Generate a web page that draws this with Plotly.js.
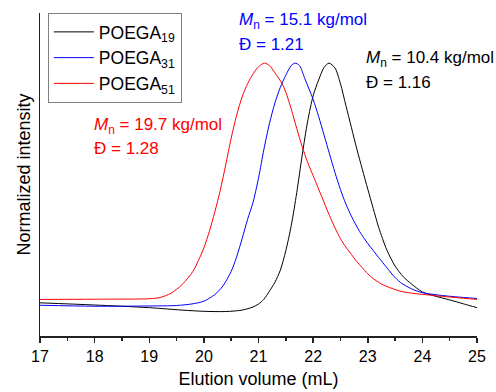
<!DOCTYPE html>
<html>
<head>
<meta charset="utf-8">
<script src="https://cdn.plot.ly/plotly-3.0.1.min.js"></script>
<style>html,body{margin:0;padding:0;background:#fff;}</style>
</head>
<body>
<div id="chart" style="width:496px;height:392px;"></div>
<script>
// Elution volume (mL) and normalized intensity for each polymer
const seriesNames = ["POEGA<sub>19</sub>", "POEGA<sub>31</sub>", "POEGA<sub>51</sub>"];

const volBlack = [17.0, 18.0, 19.0, 19.6, 20.0, 20.4, 20.7, 20.9, 21.0, 21.1, 21.2, 21.3, 21.4, 21.5, 21.6, 21.7, 21.8, 21.9, 22.0, 22.1, 22.2, 22.29, 22.4, 22.5, 22.6, 22.7, 22.8, 22.9, 23.0, 23.1, 23.2, 23.35, 23.5, 23.65, 23.8, 24.0, 24.2, 24.5, 24.75, 25.0];
const intBlack = [0.010, 0.001, -0.010, -0.020, -0.025, -0.026, -0.020, -0.007, 0.005, 0.025, 0.058, 0.095, 0.145, 0.225, 0.330, 0.465, 0.620, 0.760, 0.865, 0.930, 0.982, 1.0, 0.980, 0.915, 0.825, 0.735, 0.645, 0.562, 0.480, 0.400, 0.322, 0.228, 0.162, 0.118, 0.088, 0.055, 0.040, 0.022, 0.006, -0.010];

const volBlue = [17.0, 18.0, 19.0, 19.5, 19.8, 20.0, 20.2, 20.35, 20.5, 20.6, 20.7, 20.8, 20.9, 21.0, 21.1, 21.2, 21.3, 21.4, 21.5, 21.6, 21.67, 21.75, 21.85, 22.0, 22.1, 22.2, 22.3, 22.4, 22.5, 22.6, 22.7, 22.85, 23.0, 23.1, 23.2, 23.35, 23.47, 23.6, 23.8, 24.0, 24.3, 24.6, 25.0];
const intBlue = [0.000, -0.004, -0.003, -0.001, 0.006, 0.017, 0.044, 0.080, 0.140, 0.200, 0.275, 0.355, 0.425, 0.525, 0.645, 0.750, 0.835, 0.900, 0.950, 0.990, 1.0, 0.990, 0.935, 0.850, 0.780, 0.703, 0.625, 0.548, 0.478, 0.418, 0.368, 0.305, 0.255, 0.226, 0.197, 0.155, 0.122, 0.094, 0.068, 0.052, 0.042, 0.035, 0.028];

const volRed = [17.0, 18.0, 19.0, 19.2, 19.4, 19.6, 19.8, 19.9, 20.0, 20.1, 20.2, 20.3, 20.4, 20.5, 20.6, 20.7, 20.8, 20.9, 21.0, 21.11, 21.2, 21.3, 21.43, 21.5, 21.6, 21.7, 21.8, 21.9, 22.0, 22.1, 22.2, 22.3, 22.4, 22.5, 22.6, 22.7, 22.8, 22.9, 23.0, 23.1, 23.25, 23.4, 23.6, 23.8, 24.0, 24.3, 24.6, 25.0];
const intRed = [0.024, 0.025, 0.027, 0.032, 0.050, 0.085, 0.140, 0.185, 0.237, 0.305, 0.385, 0.475, 0.580, 0.690, 0.785, 0.860, 0.915, 0.955, 0.985, 1.0, 0.990, 0.960, 0.916, 0.880, 0.810, 0.730, 0.655, 0.590, 0.535, 0.480, 0.425, 0.370, 0.320, 0.275, 0.240, 0.210, 0.180, 0.155, 0.130, 0.110, 0.088, 0.073, 0.058, 0.050, 0.045, 0.038, 0.032, 0.024];

const xTickVals = [17, 18, 19, 20, 21, 22, 23, 24, 25];

const labelBlack = ["<i>M</i><sub>n</sub> = 10.4 kg/mol", "Đ = 1.16"];
const labelBlue = ["<i>M</i><sub>n</sub> = 15.1 kg/mol", "Đ = 1.21"];
const labelRed = ["<i>M</i><sub>n</sub> = 19.7 kg/mol", "Đ = 1.28"];

const colors = ["#000000", "#0000ff", "#ff0000"];
const FONT = "Liberation Sans, Arial, sans-serif";

function trace(x, y, name, color) {
  return {x: x, y: y, name: name, type: "scatter", mode: "lines",
    line: {color: color, width: 1, shape: "spline", smoothing: 0.8}};
}

const data = [
  trace(volBlack, intBlack, seriesNames[0], colors[0]),
  trace(volBlue, intBlue, seriesNames[1], colors[1]),
  trace(volRed, intRed, seriesNames[2], colors[2])
];

function ann(text, x, y, color) {
  return {text: text, x: x, y: y, xref: "paper", yref: "paper", xanchor: "left", yanchor: "middle",
    showarrow: false, font: {family: FONT, size: 17, color: color}};
}

const layout = {
  width: 496, height: 392,
  margin: {l: 40, r: 19, t: 13, b: 56},
  paper_bgcolor: "#fff", plot_bgcolor: "#fff",
  font: {family: FONT, size: 16, color: "#000"},
  showlegend: true,
  legend: {x: 0.018, y: 1.0, xanchor: "left", yanchor: "top", bgcolor: "#fff", itemwidth: 40,
    bordercolor: "#808080", borderwidth: 1, font: {family: FONT, size: 17.5, color: "#000"}},
  xaxis: {range: [17, 25], tickvals: xTickVals, ticktext: xTickVals.map(String),
    showgrid: false, zeroline: false, showline: true, linecolor: "#222", linewidth: 1.5,
    ticks: "outside", ticklen: 5, tickwidth: 1.5, tickcolor: "#222",
    minor: {dtick: 0.5, ticks: "outside", ticklen: 3, tickwidth: 1.5, tickcolor: "#222"},
    tickfont: {family: FONT, size: 16, color: "#000"},
    title: {text: "Elution volume (mL)", font: {family: FONT, size: 18, color: "#000"}, standoff: 8}},
  yaxis: {range: [-0.127, 1.207], showticklabels: false, ticks: "", showgrid: false, zeroline: false,
    showline: true, linecolor: "#222", linewidth: 1.5,
    title: {text: "Normalized intensity", font: {family: FONT, size: 18, color: "#000"}, standoff: 3}},
  annotations: [
    ann(labelBlue[0], 0.451, 0.975, colors[1]),
    ann(labelBlue[1], 0.451, 0.901, colors[1]),
    ann(labelBlack[0], 0.741, 0.858, colors[0]),
    ann(labelBlack[1], 0.741, 0.786, colors[0]),
    ann(labelRed[0], 0.119, 0.650, colors[2]),
    ann(labelRed[1], 0.119, 0.582, colors[2])
  ]
};

Plotly.newPlot("chart", data, layout, {displayModeBar: false, staticPlot: true});
</script>
</body>
</html>
